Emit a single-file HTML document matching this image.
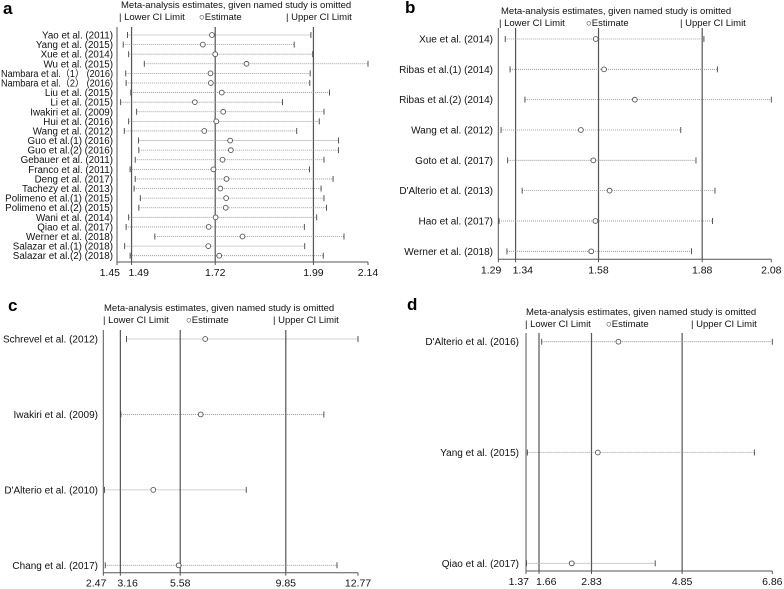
<!DOCTYPE html>
<html><head><meta charset="utf-8"><style>
body{margin:0;background:#fff;width:784px;height:589px;overflow:hidden}
svg{display:block;font-family:"Liberation Sans","Noto Sans CJK SC",sans-serif}
</style></head><body>
<svg id="chart" width="784" height="589" viewBox="0 0 784 589" xmlns="http://www.w3.org/2000/svg"></svg>
<script>
// Panel a
const aStudies=["Yao et al. (2011)","Yang et al. (2015)","Xue et al. (2014)","Wu et al. (2015)","Nambara et al.（1） (2016)","Nambara et al.（2） (2016)","Liu et al. (2015)","Li et al. (2015)","Iwakiri et al. (2009)","Hui et al. (2016)","Wang et al. (2012)","Guo et al.(1) (2016)","Guo et al.(2) (2016)","Gebauer et al. (2011)","Franco et al. (2011)","Deng et al. (2017)","Tachezy et al. (2013)","Polimeno et al.(1) (2015)","Polimeno et al.(2) (2015)","Wani et al. (2014)","Qiao et al. (2017)","Werner et al. (2018)","Salazar et al.(1) (2018)","Salazar et al.(2) (2018)"];
const aLower=[1.479,1.467,1.482,1.525,1.474,1.475,1.488,1.460,1.504,1.482,1.470,1.509,1.510,1.500,1.486,1.500,1.497,1.514,1.510,1.482,1.475,1.554,1.471,1.486];
const aEst=[1.711,1.686,1.720,1.806,1.707,1.708,1.738,1.664,1.742,1.723,1.690,1.761,1.763,1.740,1.715,1.751,1.734,1.750,1.749,1.721,1.702,1.795,1.701,1.731];
const aUpper=[1.983,1.937,1.988,2.140,1.981,1.980,2.034,1.905,2.019,2.006,1.944,2.059,2.059,2.019,1.979,2.044,2.011,2.019,2.026,1.999,1.965,2.074,1.966,2.017];
const aTicks=["1.45","1.49","1.72","1.99","2.14"];
const aRef=[1.49,1.72,1.99];
// Panel b
const bStudies=["Xue et al. (2014)","Ribas et al.(1) (2014)","Ribas et al.(2) (2014)","Wang et al. (2012)","Goto et al. (2017)","D'Alterio et al. (2013)","Hao et al. (2017)","Werner et al. (2018)"];
const bLower=[1.310,1.324,1.367,1.298,1.317,1.359,1.292,1.315];
const bEst=[1.572,1.596,1.685,1.529,1.565,1.612,1.571,1.559];
const bUpper=[1.885,1.924,2.080,1.818,1.862,1.917,1.910,1.849];
const bTicks=["1.29","1.34","1.58","1.88","2.08"];
const bRef=[1.34,1.58,1.88];
// Panel c
const cStudies=["Schrevel et al. (2012)","Iwakiri et al. (2009)","D'Alterio et al. (2010)","Chang et al.  (2017)"];
const cLower=[3.41,3.18,2.52,2.55];
const cEst=[6.59,6.41,4.49,5.52];
const cUpper=[12.77,11.39,8.25,11.92];
const cTicks=["2.47","3.16","5.58","9.85","12.77"];
const cRef=[3.16,5.58,9.85];
// Panel d
const dStudies=["D'Alterio et al. (2016)","Yang et al. (2015)","Qiao et al. (2017)"];
const dLower=[1.72,1.40,1.38];
const dEst=[3.43,2.97,2.39];
const dUpper=[6.86,6.46,4.25];
const dTicks=["1.37","1.66","2.83","4.85","6.86"];
const dRef=[1.66,2.83,4.85];

const svg=document.getElementById('chart');
const NS="http://www.w3.org/2000/svg";
function mk(tag,attrs,parent){const e=document.createElementNS(NS,tag);for(const k in attrs)e.setAttribute(k,attrs[k]);(parent||svg).appendChild(e);return e;}
function txt(s,attrs,parent){const e=mk('text',attrs,parent);e.textContent=s;return e;}

function panel(id,letter,studies,lower,est,upper,ticks,ref,cfg){
  const g=mk('g',{});
  
  
  const min=parseFloat(ticks[0]),max=parseFloat(ticks[ticks.length-1]);
  const x=v=>cfg.x0+(v-min)/(max-min)*(cfg.x1-cfg.x0);
  const y=i=>studies.length>1?cfg.y0+i*(cfg.yN-cfg.y0)/(studies.length-1):cfg.y0;
  const pl=txt(letter,{x:cfg.lx,y:cfg.ly,'font-size':17,'font-weight':'bold',fill:'#000'},g);
  
  
  const t=txt('Meta-analysis estimates, given named study is omitted',{x:cfg.tx,y:cfg.ty,'font-size':9.5,fill:'#111'},g);
  
  
  const leg=[['| Lower CI Limit',cfg.lg[0]],['○Estimate',cfg.lg[1]],['| Upper CI Limit',cfg.lg[2]]];
  leg.forEach((l,i)=>{const e=txt(l[0],{x:l[1],y:cfg.ty+12,'font-size':9.5,fill:'#111'},g);
    
    });
  const ax=mk('line',{x1:cfg.x0,y1:cfg.top,x2:cfg.x0,y2:cfg.axy,stroke:'#555','stroke-width':1},g);
  
  
  const bx=mk('line',{x1:cfg.x0,y1:cfg.axy,x2:cfg.x1,y2:cfg.axy,stroke:'#555','stroke-width':1},g);
  
  
  ref.forEach((r,i)=>{const e=mk('line',{x1:x(r),y1:cfg.top,x2:x(r),y2:cfg.axy,stroke:'#555','stroke-width':1.2},g);
    
    });
  ticks.forEach((tk,i)=>{const v=parseFloat(tk);
    const tl=mk('line',{x1:x(v),y1:cfg.axy,x2:x(v),y2:cfg.axy+3,stroke:'#555'},g);
    
    
    let anchor='middle',dx=0;
    if(i===0){anchor='end';dx=3;} if(i===1){anchor='start';dx=-3;}
    const e=txt(tk,{x:x(v)+dx,y:cfg.axy+14,'font-size':10.5,fill:'#111','text-anchor':anchor},g);
    
    });
  studies.forEach((s,i)=>{const yy=y(i);
    const lab=txt(s,{x:cfg.labx,y:yy+3.5,'font-size':cfg.fs,fill:'#111','text-anchor':'end'},g);
    
    
    const w=lab.getComputedTextLength();
    if(w>cfg.labx-1){lab.setAttribute('textLength',cfg.labx-1);lab.setAttribute('lengthAdjust','spacingAndGlyphs');}
    const ci=mk('line',{x1:x(lower[i]),y1:yy,x2:x(upper[i]),y2:yy,stroke:'#888','stroke-width':0.8,'stroke-dasharray':'1,1'},g);
    
    
    [lower[i],upper[i]].forEach(v=>{const tk=mk('line',{x1:x(v),y1:yy-3,x2:x(v),y2:yy+3,stroke:'#444','stroke-width':0.9},g);
      
      });
    const c=mk('circle',{cx:x(est[i]),cy:yy,r:2.4,fill:'#fff',stroke:'#555','stroke-width':0.9},g);
    
    
  });
}
panel('a','a',aStudies,aLower,aEst,aUpper,aTicks,aRef,{x0:117,x1:368,y0:35,yN:255.7,top:27,axy:262,labx:113,fs:9.8,lx:3,ly:14,tx:121,ty:8,lg:[119,199,286]});
panel('b','b',bStudies,bLower,bEst,bUpper,bTicks,bRef,{x0:498.3,x1:771.3,y0:39,yN:251.3,top:28,axy:259.3,labx:493,fs:10,lx:405,ly:13,tx:501,ty:14,lg:[499,586,680]});
panel('c','c',cStudies,cLower,cEst,cUpper,cTicks,cRef,{x0:103.3,x1:358,y0:339,yN:565.3,top:330,axy:572.7,labx:98,fs:10,lx:8,ly:311,tx:104,ty:311,lg:[103,186,273]});
panel('d','d',dStudies,dLower,dEst,dUpper,dTicks,dRef,{x0:526,x1:772.3,y0:341.7,yN:563.3,top:333,axy:571,labx:519,fs:10,lx:407,ly:310,tx:526,ty:315,lg:[525,606,691]});
</script>
</body></html>
